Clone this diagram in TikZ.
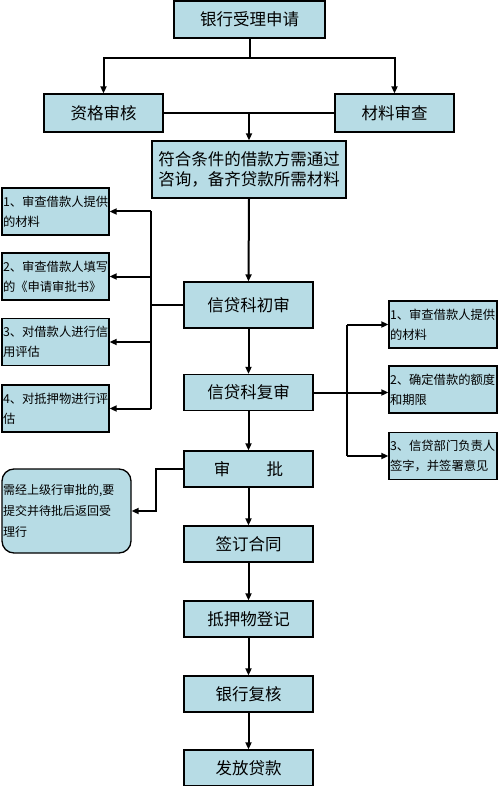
\documentclass[tikz,border=0pt]{standalone}
\usepackage{fontspec}
\setmainfont{Noto Sans CJK SC}
\usetikzlibrary{arrows.meta}
\definecolor{boxfill}{RGB}{183,220,229}

\begin{document}
\begin{tikzpicture}[x=1pt,y=-1pt,
  box/.style={draw=black, line width=1.3pt, fill=boxfill, inner sep=0pt,
    minimum width=129pt, minimum height=36pt, font=\fontsize{16.5}{20}\selectfont},
  sidebox/.style={draw=black, line width=1.3pt, fill=boxfill, inner sep=1pt,
    text width=105pt, minimum height=47pt, align=left, font=\fontsize{12.3}{20}\selectfont},
  link/.style={line width=2pt},
  arr/.style={line width=2pt, -{Triangle[length=7pt,width=6pt]}}]
\useasboundingbox (0,0) rectangle (500,786);
\clip (0,0) rectangle (500,786);

% Cabecera
\node [box, minimum width=151pt, minimum height=37pt] (apply) at (249.5,19.5) {银行受理申请};
\node [box, minimum width=119pt, minimum height=38pt] (qual) at (103.5,113) {资格审核};
\node [box, minimum width=119pt, minimum height=38pt] (mat) at (394.5,113) {材料审查};
\node [box, minimum width=194pt, minimum height=57pt, align=center] (cond) at (249,169.5)
  {符合条件的借款方需通过\\咨询，备齐贷款所需材料};

% Columna central
\node [box, minimum height=46pt] (first) at (248.5,305) {信贷科初审};
\node [box] (second) at (248.5,392.5) {信贷科复审};
\node [box] (approve) at (248.5,469) {审\hspace{2.2em}批};
\node [box] (sign) at (248.5,544) {签订合同};
\node [box] (mortgage) at (248.5,619) {抵押物登记};
\node [box] (review) at (248.5,694) {银行复核};
\node [box] (release) at (248.5,768) {发放贷款};

% Cajas de la izquierda
\node [sidebox] (l1) at (55.5,211.5) {1、审查借款人提供\\的材料};
\node [sidebox] (l2) at (55.5,276.5) {2、审查借款人填写\\的《申请审批书》};
\node [sidebox] (l3) at (55.5,342) {3、对借款人进行信\\用评估};
\node [sidebox] (l4) at (55.5,408.5) {4、对抵押物进行评\\估};
\node [sidebox, text width=127pt, minimum height=84pt, rounded corners=12pt,
  font=\fontsize{12}{21}\selectfont] (note) at (66.5,511)
  {需经上级行审批的,要\\提交并待批后返回受\\理行};

% Cajas de la derecha
\node [sidebox, text width=106pt] (r1) at (443,324.5) {1、审查借款人提供\\的材料};
\node [sidebox, text width=106pt] (r2) at (443,389.5) {2、确定借款的额度\\和期限};
\node [sidebox, text width=106pt] (r3) at (443,456) {3、信贷部门负责人\\签字，并签署意见};

% Flechas de arriba
\draw [arr] (apply.south) -- ++(0,19) -| (qual.north);
\draw [arr] (apply.south) -- ++(0,19) -| (mat.north);
\draw [link] (qual.east) -- (mat.west);
\draw [arr] (qual.east -| cond.north) -- (cond.north);
\draw [arr] (cond.south) -- (first.north);

% Ramas
\draw [link] (first.west) -- ++(-32,0) coordinate (lj);
\draw [link] (lj |- l1.east) -- (lj |- l4.east);
\foreach \i in {1,...,4}
  \draw [arr] (lj |- l\i.east) -- (l\i.east);
\coordinate (rj) at (347,0);
\draw [link] (rj |- r1.west) -- (rj |- r3.west);
\foreach \i in {1,3}
  \draw [arr] (rj |- r\i.west) -- (r\i.west);
\draw [arr] (second.east) -- (second.east -| r2.west);
\draw [arr] (approve.west) -- ++(-27,0) |- (note.east);

% Cadena central
\draw [arr] (first.south) -- (second.north);
\draw [arr] (second.south) -- (approve.north);
\draw [arr] (approve.south) -- (sign.north);
\draw [arr] (sign.south) -- (mortgage.north);
\draw [arr] (mortgage.south) -- (review.north);
\draw [arr] (review.south) -- (release.north);
\end{tikzpicture}
\end{document}
